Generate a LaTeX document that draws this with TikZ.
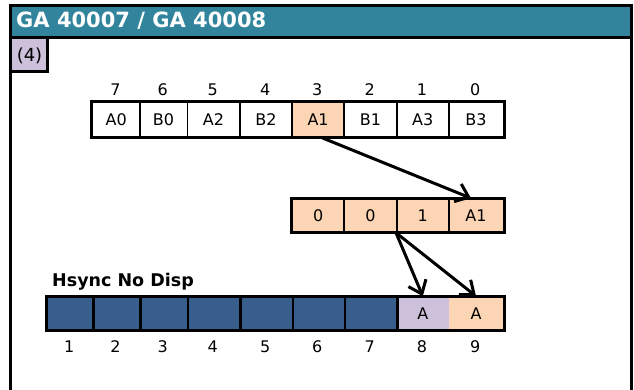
\documentclass[tikz,border=0pt]{standalone}
\usepackage{fontspec}
\setmainfont{DejaVu Sans}
\usetikzlibrary{arrows.meta}
\definecolor{teal1}{HTML}{31849B}
\definecolor{navy1}{HTML}{385E8D}
\definecolor{lilac}{HTML}{CCC0DA}
\definecolor{peach}{HTML}{FCD5B4}
\tikzset{
  cell/.style={draw=black, line width=1.6pt, inner sep=0pt, anchor=west, font=\fontsize{16}{16}\selectfont},
  num/.style={inner sep=0pt, font=\fontsize{16}{16}\selectfont},
  rowframe/.style={draw=black, line width=3pt},
  divider/.style={draw=black, line width=2.5pt},
  arr/.style={line width=3pt, -{Straight Barb[length=12pt,width=19pt,line width=3pt]}},
}
\begin{document}
\begin{tikzpicture}[x=1pt,y=-1pt]
\useasboundingbox (0,0) rectangle (634,389);
% frame and title
\fill[teal1] (11,5) rectangle (631.5,37.5);
\draw[line width=3pt] (10.5,400) -- (10.5,5) -- (631.5,5) -- (631.5,400);
\draw[line width=3pt] (10.5,37.5) -- (631.5,37.5);
\node[anchor=west, inner sep=0pt, text=white, font=\bfseries\fontsize{21}{21}\selectfont] (title) at (16,21) {GA 40007 / GA 40008};
\fill[lilac] (12,39) rectangle (46.5,71);
\draw[line width=3pt] (10.5,71.5) -- (47.5,71.5) -- (47.5,37.5);
\node[inner sep=0pt, font=\fontsize{18}{18}\selectfont] (step4) at (29.5,55.5) {(4)};
% top row
\def\ty{119.5}
\foreach \xa/\xb/\lab/\bit/\col [count=\i] in {91.7/139/A0/7/white, 139/186.5/B0/6/white, 186.5/239/A2/5/white, 239/291.3/B2/4/white, 291.3/343.3/A1/3/peach, 343.3/396/B1/2/white, 396/448/A3/1/white, 448/502.5/B3/0/white}{
  \node[cell, fill=\col, minimum width={\xb-\xa}, minimum height=35] (t\i) at (\xa,\ty) {\lab};
  \node[num] (tn\i) at ({(\xa+\xb)/2},90) {\bit};
}
\draw[rowframe] (t1.north west) rectangle (t8.south east);
% middle row
\def\my{215.5}
\foreach \xa/\xb/\lab [count=\i] in {291.3/343.3/0, 343.3/396/0, 396/448/1, 448/502.5/A1}{
  \node[cell, fill=peach, minimum width={\xb-\xa}, minimum height=33] (m\i) at (\xa,\my) {\lab};
}
\draw[rowframe] (m1.north west) rectangle (m4.south east);
% bottom row
\def\by{313.5}
\foreach \xa/\xb/\lab/\col [count=\i] in {46.7/91.7//navy1, 91.7/139//navy1, 139/186.5//navy1, 186.5/239//navy1, 239/291.3//navy1, 291.3/343.3//navy1, 343.3/396//navy1, 396/448/A/lilac, 448/502.5/A/peach}{
  \node[cell, draw=none, fill=\col, minimum width={\xb-\xa}, minimum height=33] (b\i) at (\xa,\by) {\lab};
  \node[num] (bn\i) at ({(\xa+\xb)/2},347) {\i};
}
\foreach \i in {1,...,7}{
  \draw[divider] (b\i.north east) -- (b\i.south east);
}
\draw[rowframe] (b1.north west) rectangle (b9.south east);
\node[anchor=west, inner sep=0pt, font=\bfseries\fontsize{17.5}{17.5}\selectfont] (hs) at (52,282) {Hsync No Disp};
% arrows
\draw[arr] ([xshift=4pt]t5.south) -- ([xshift=-5pt]m4.north);
\draw[arr] (m3.south west) -- (b8.north);
\draw[arr] (m3.south west) -- (b9.north);
\end{tikzpicture}
\end{document}
